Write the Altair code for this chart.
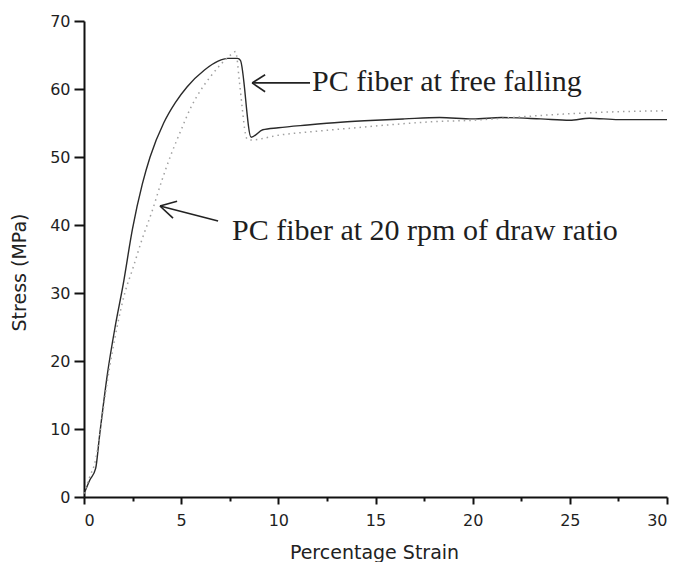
import altair as alt
import pandas as pd

# Stress-strain curve: PC fiber spun at free falling (solid line)
strain_free = [0.05, 0.3, 0.6, 0.8, 1.2, 1.6, 2.0, 2.5, 3.0, 3.4, 4.1, 4.7, 5.3, 6.2,
               6.9, 7.4, 7.9, 8.05, 8.6, 9.2, 10.0, 11.5, 13.2, 15.0, 16.5, 18.3,
               20.0, 21.5, 23.5, 25.0, 26.0, 27.5, 29.0, 30.0]
stress_free = [0.8, 2.5, 4.2, 9.0, 18.0, 25.0, 31.0, 39.5, 46.0, 50.0, 55.0, 58.0, 60.3, 62.8,
               64.1, 64.5, 64.5, 64.2, 52.9, 54.0, 54.3, 54.7, 55.1, 55.4, 55.6, 55.8,
               55.6, 55.8, 55.6, 55.4, 55.7, 55.5, 55.5, 55.5]

# Stress-strain curve: PC fiber at 20 rpm of draw ratio (dotted line)
strain_rpm = [0.0, 0.3, 0.6, 0.8, 1.2, 1.7, 2.1, 2.5, 3.0, 3.5, 4.0, 4.5, 5.0, 5.5, 6.0,
              6.5, 7.0, 7.5, 7.8, 8.0, 8.15, 8.3, 8.4, 8.6, 10.0, 12.0, 14.0, 16.0,
              18.0, 20.0, 22.0, 24.0, 26.0, 28.0, 30.0]
stress_rpm = [0.5, 3.0, 5.5, 9.0, 17.0, 25.0, 30.0, 33.5, 38.0, 42.0, 46.5, 50.5, 54.0, 57.3, 59.8,
              61.8, 63.5, 64.9, 65.5, 61.0, 57.0, 53.5, 52.6, 52.5, 53.2, 53.8, 54.3, 54.8,
              55.2, 55.4, 55.8, 56.2, 56.5, 56.7, 56.8]

# Axis tick positions (majors are labelled, the rest are minor ticks)
x_ticks = [0, 2.5, 5, 7.5, 10, 12.5, 15, 17.5, 20, 22.5, 25, 27.5, 30]
y_ticks = [0, 5, 10, 15, 20, 25, 30, 35, 40, 45, 50, 55, 60, 65, 70]

# Annotation texts and their anchor points (strain, stress)
note_text = ["PC fiber at free falling", "PC fiber at 20 rpm of draw ratio"]
note_x = [11.73, 7.62]
note_y = [59.7, 37.8]

# Arrow segments: shaft and two barbs for each arrow
arrow_x = [8.65, 8.65, 8.65, 3.91, 3.91, 3.91]
arrow_y = [60.9, 60.9, 60.9, 42.8, 42.8, 42.8]
arrow_x2 = [11.63, 9.32, 9.32, 6.90, 4.79, 4.58]
arrow_y2 = [60.9, 62.1, 59.6, 40.6, 43.5, 41.0]

free_df = pd.DataFrame({"strain": strain_free, "stress": stress_free})
rpm_df = pd.DataFrame({"strain": strain_rpm, "stress": stress_rpm})
note_df = pd.DataFrame({"strain": note_x, "stress": note_y, "text": note_text})
arrow_df = pd.DataFrame({"x": arrow_x, "y": arrow_y, "x2": arrow_x2, "y2": arrow_y2})

x_scale = alt.Scale(domain=[0, 30], nice=False, zero=False)
y_scale = alt.Scale(domain=[0, 70], nice=False, zero=False)

axis_common = dict(
    domainColor="#111", domainWidth=2, tickColor="#111", tickWidth=2,
    labelFont="DejaVu Sans", labelFontSize=16, labelColor="#1f1f1f",
    titleFont="DejaVu Sans", titleFontSize=19, titleColor="#222",
    titleFontWeight="normal", grid=False, labelOverlap=False,
)

x_axis = alt.Axis(
    values=x_ticks, title="Percentage Strain",
    labelExpr="datum.value % 5 === 0 ? format(datum.value, 'd') : ''",
    tickSize={"condition": {"test": "datum.value % 5 !== 0", "value": 4}, "value": 7},
    labelPadding=8, titleX=290, titleY=61, titleAlign="center",
    titleBaseline="alphabetic", **axis_common,
)
y_axis = alt.Axis(
    values=y_ticks, title="Stress (MPa)",
    labelExpr="datum.value % 10 === 0 ? format(datum.value, 'd') : ''",
    tickSize={"condition": {"test": "datum.value % 10 !== 0", "value": 4}, "value": 10},
    labelPadding=4, titleX=-59, titleY=251, titleAngle=-90, titleAlign="center",
    titleBaseline="alphabetic", **axis_common,
)

free_line = alt.Chart(free_df).mark_line(
    color="#2a2a2a", strokeWidth=1.4, interpolate="monotone"
).encode(
    x=alt.X("strain:Q", scale=x_scale, axis=x_axis),
    y=alt.Y("stress:Q", scale=y_scale, axis=y_axis),
    order="strain:Q",
)

rpm_line = alt.Chart(rpm_df).mark_line(
    color="#a0a0a0", strokeWidth=1.5, strokeDash=[1.5, 4], interpolate="monotone"
).encode(
    x=alt.X("strain:Q", scale=x_scale),
    y=alt.Y("stress:Q", scale=y_scale),
    order="strain:Q",
)

arrows = alt.Chart(arrow_df).mark_rule(color="#222", strokeWidth=1.6).encode(
    x=alt.X("x:Q", scale=x_scale), y=alt.Y("y:Q", scale=y_scale),
    x2="x2:Q", y2="y2:Q",
)

notes = alt.Chart(note_df).mark_text(
    align="left", baseline="alphabetic", font="Liberation Serif",
    fontSize=30, color="#1e1e1e",
).encode(
    x=alt.X("strain:Q", scale=x_scale), y=alt.Y("stress:Q", scale=y_scale),
    text="text:N",
)

chart = alt.layer(free_line, rpm_line, arrows, notes).properties(
    width=583, height=476,
    padding={"left": 84, "top": 21, "right": 12, "bottom": 65},
    autosize=alt.AutoSizeParams(type="none"),
    background="white",
).configure_view(stroke=None)

chart.save("out.html", embed_options={"renderer": "svg", "actions": False})
